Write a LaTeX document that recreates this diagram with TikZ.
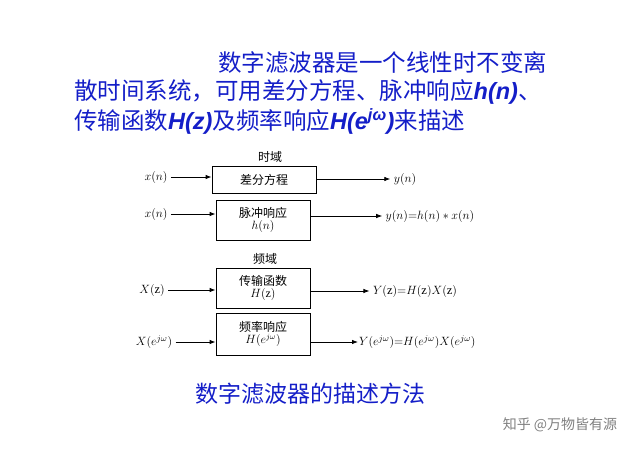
\documentclass[tikz,border=0pt]{standalone}
\usepackage{fontspec}
\setmainfont{Liberation Serif}
\newfontfamily\cjk{Noto Sans CJK SC}
\newfontfamily\bsf{Liberation Sans}
\newcommand{\bm}[1]{{\bsf\bfseries\itshape #1}}
\usetikzlibrary{arrows.meta}
\definecolor{tblue}{RGB}{20,30,200}
\begin{document}
\begin{tikzpicture}[x=1pt,y=-1pt,
  blk/.style={draw,thick,minimum width=#1,align=center,inner sep=1pt,font=\cjk\fontsize{12}{13}\selectfont},
  lbl/.style={font=\fontsize{12.5}{14}\selectfont},
  arr/.style={-{Latex[length=6pt]},thick},
  ttl/.style={text=tblue,anchor=west,font=\cjk\fontsize{23.5}{26}\selectfont,inner sep=0pt}]
\useasboundingbox (0,0) rectangle (640,452);
\node[ttl] (t1) at (218,63) {数字滤波器是一个线性时不变离};
\node[ttl] (t2) at (74,92) {散时间系统，可用差分方程、脉冲响应\bm{h(n)}、};
\node[ttl] (t3) at (74,121) {传输函数\bm{H(z)}及频率响应\bm{H(e\textsuperscript{jω})}来描述};
% time domain
\node[font=\cjk\fontsize{12}{13}\selectfont] (td) at (270,157) {时域};
\node[blk, minimum width=104pt, minimum height=27pt] (b1) at (264,179.5) {差分方程};
\node[lbl] (x1) at (156,177) {$x(n)$};
\node[lbl] (y1) at (405,179) {$y(n)$};
\draw[arr] (x1) -- (x1 -| b1.west);
\draw[arr] (b1.east |- y1) -- (y1);
\node[blk, minimum width=94pt, minimum height=40pt] (b2) at (263,220) {脉冲响应\\[-1pt]$h(n)$};
\node[lbl] (x2) at (156,214) {$x(n)$};
\node[lbl] (y2) at (430,216) {$y(n){=}h(n)*x(n)$};
\draw[arr] (x2) -- (x2 -| b2.west);
\draw[arr] (b2.east |- y2) -- (y2);
% frequency domain
\node[font=\cjk\fontsize{12}{13}\selectfont] (fd) at (265,259) {频域};
\node[blk, minimum width=94pt, minimum height=40pt] (b3) at (263,288) {传输函数\\[-1pt]$H(\mathrm{z})$};
\node[lbl] (x3) at (152,290) {$X(\mathrm{z})$};
\node[lbl] (y3) at (415,291) {$Y(\mathrm{z}){=}H(\mathrm{z})X(\mathrm{z})$};
\draw[arr] (x3) -- (x3 -| b3.west);
\draw[arr] (b3.east |- y3) -- (y3);
\node[blk, minimum width=94pt, minimum height=42pt] (b4) at (263,334) {频率响应\\[-1pt]$H(e^{j\omega})$};
\node[lbl] (x4) at (154,342) {$X(e^{j\omega})$};
\node[lbl,anchor=west,inner sep=1pt] (y4) at (358,342) {$Y(e^{j\omega}){=}H(e^{j\omega})X(e^{j\omega})$};
\draw[arr] (x4) -- (x4 -| b4.west);
\draw[arr] (b4.east |- y4) -- (y4.west);
\node[text=tblue,font=\cjk\fontsize{23}{26}\selectfont] (cap) at (310,394) {数字滤波器的描述方法};
\node[text=gray,font=\cjk\fontsize{14}{16}\selectfont] (wm) at (560,425) {知乎 @万物皆有源};
\end{tikzpicture}
\end{document}
